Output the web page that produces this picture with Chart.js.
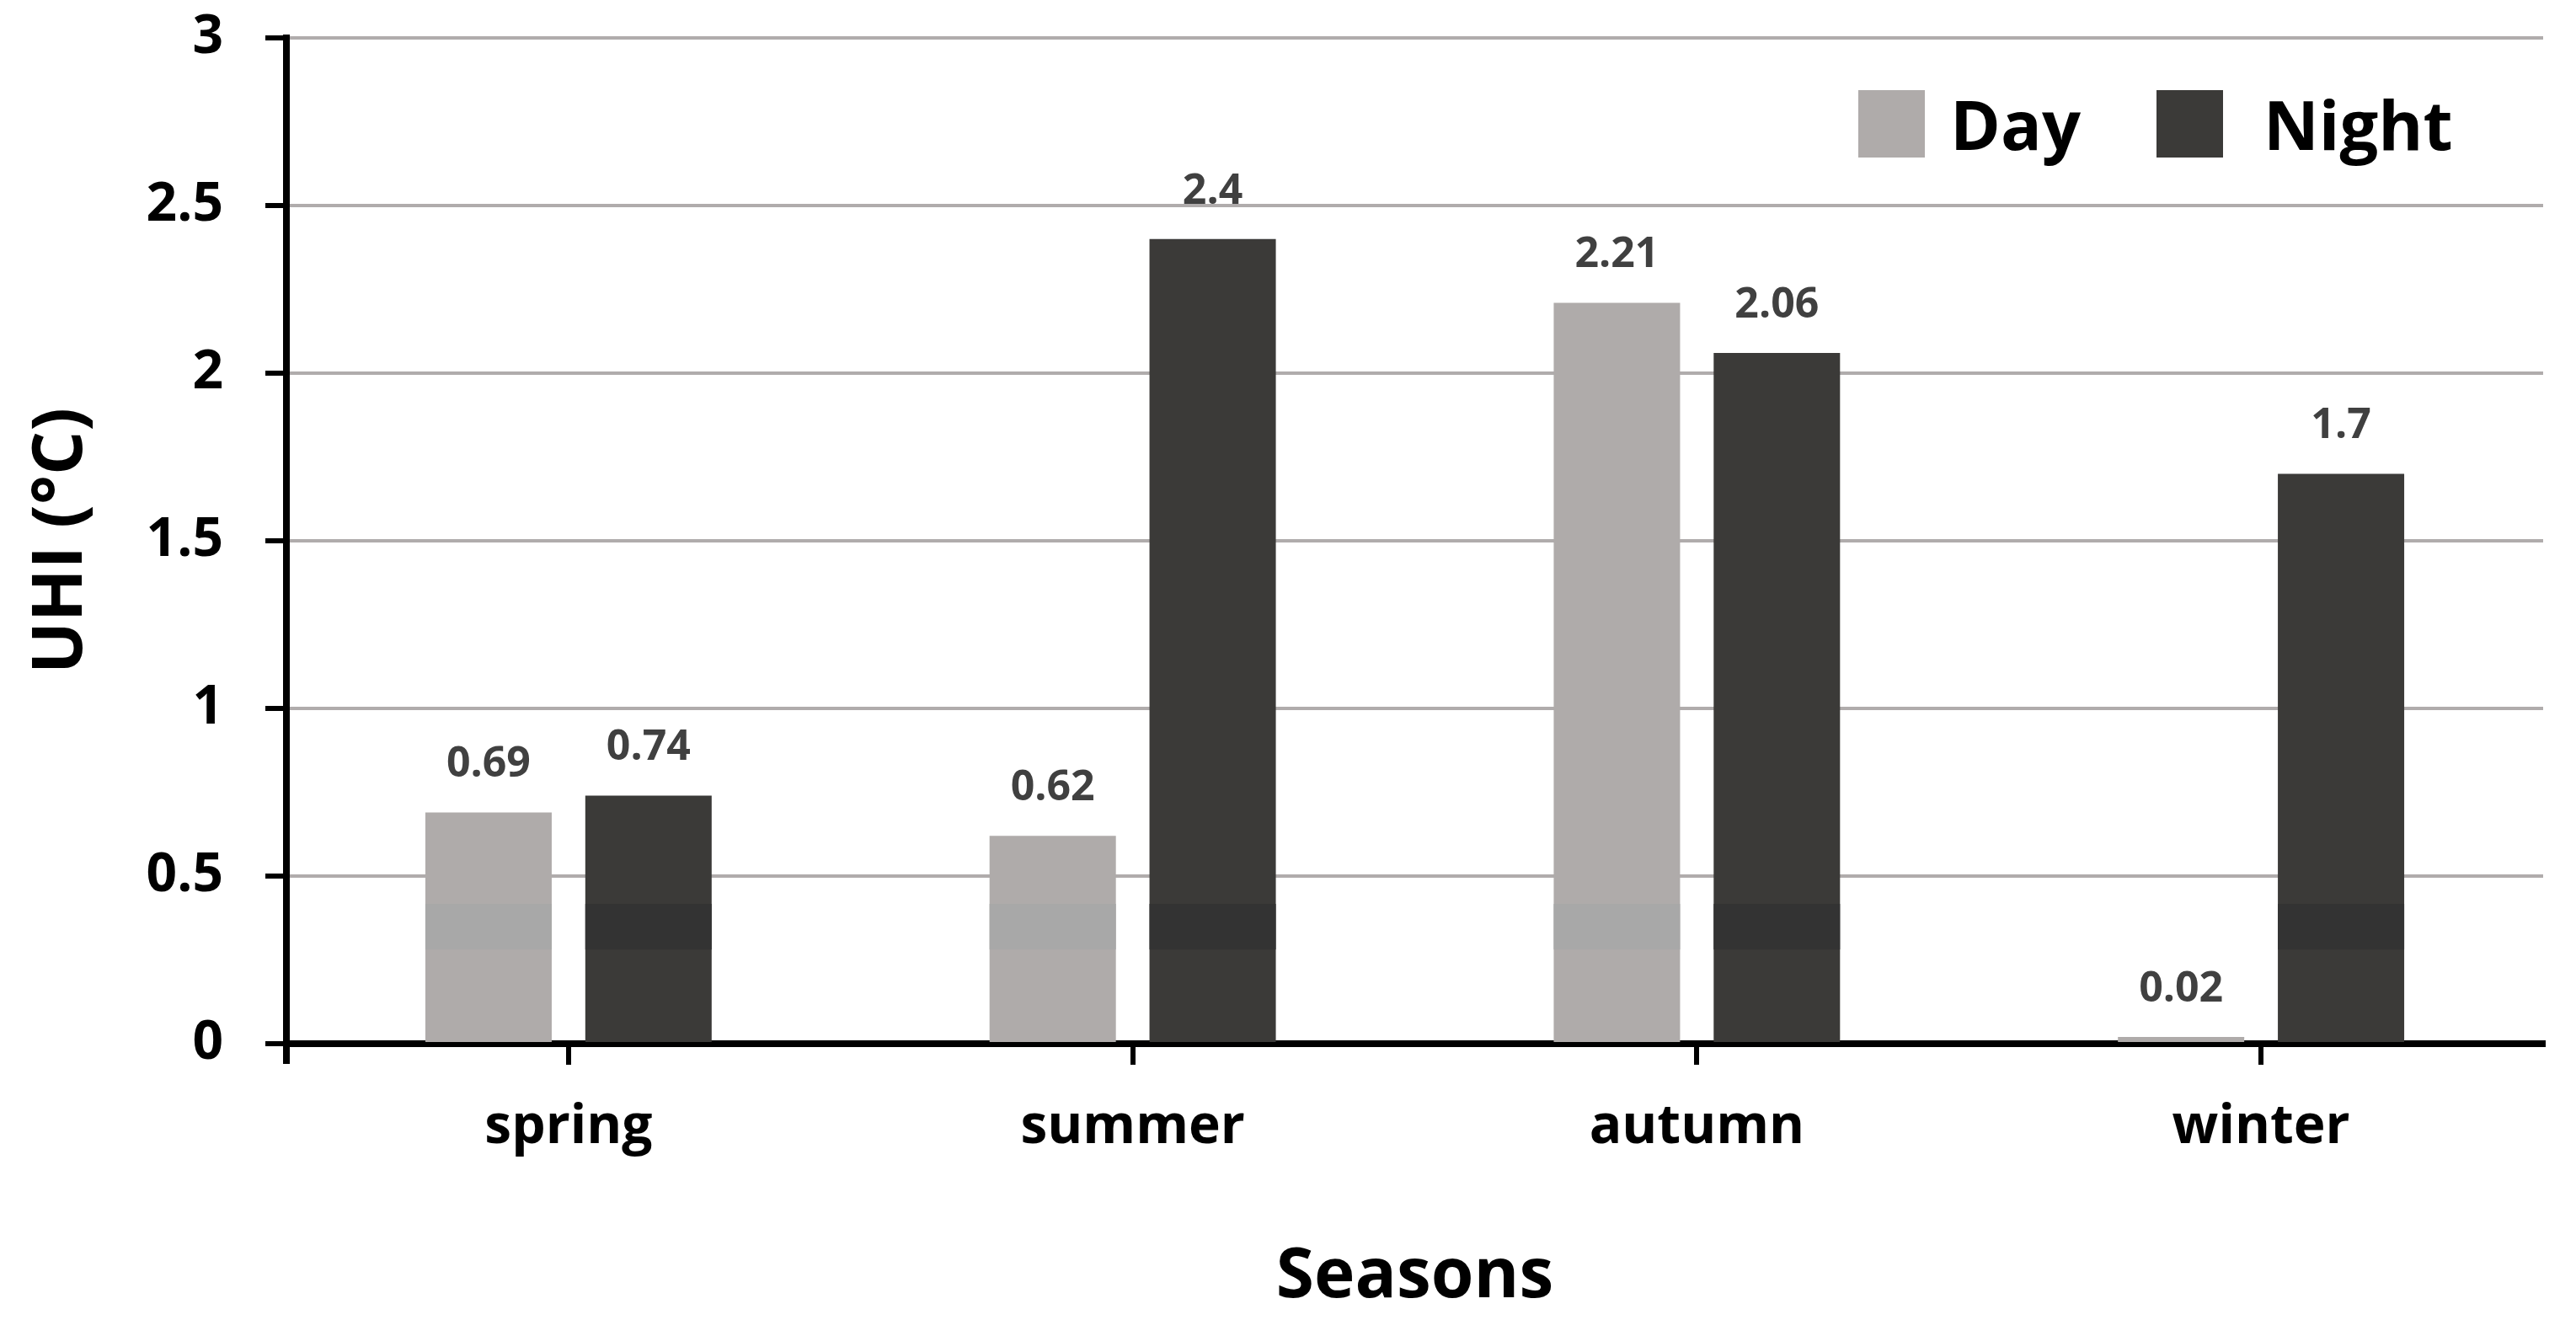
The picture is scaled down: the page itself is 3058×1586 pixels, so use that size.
<!DOCTYPE html>
<html><head><meta charset="utf-8">
<script src="https://cdn.jsdelivr.net/npm/chart.js@4.4.0/dist/chart.umd.min.js"></script>
<style>html,body{margin:0;padding:0;background:#fff;} #wrap{width:3058px;height:1586px;position:relative;} canvas{display:block;}</style>
</head><body><div id="wrap"><canvas id="c" width="3058" height="1586"></canvas></div>
<script>
const categories = ['spring', 'summer', 'autumn', 'winter'];
const dayValues = [0.69, 0.62, 2.21, 0.02];
const nightValues = [0.74, 2.4, 2.06, 1.7];
const seriesNames = ['Day', 'Night'];
const yMin = 0, yMax = 3, yStep = 0.5;
const xTitle = 'Seasons';
const yTitle = 'UHI (°C)';
const bandRange = [0.281, 0.417];

const FONT = "'Open Sans', 'DejaVu Sans', sans-serif";
const dayColor = '#afabaa', nightColor = '#3b3a38';
const bandColors = ['#a8a8a8', '#333333'];

const bandPlugin = {
  id: 'band',
  afterDatasetsDraw(chart) {
    const ctx = chart.ctx, ys = chart.scales.y;
    chart.data.datasets.forEach((ds, di) => {
      const meta = chart.getDatasetMeta(di);
      meta.data.forEach((bar, i) => {
        const v = ds.data[i];
        if (v <= bandRange[0]) return;
        const top = ys.getPixelForValue(Math.min(v, bandRange[1]));
        const bot = ys.getPixelForValue(bandRange[0]);
        ctx.save();
        ctx.fillStyle = bandColors[di];
        ctx.fillRect(bar.x - bar.width / 2, top, bar.width, bot - top);
        ctx.restore();
      });
    });
  }
};

const labelPlugin = {
  id: 'vlabels',
  afterDatasetsDraw(chart) {
    const ctx = chart.ctx;
    ctx.save();
    ctx.font = 'bold 50px ' + FONT;
    ctx.fillStyle = '#404040';
    ctx.textAlign = 'center';
    ctx.textBaseline = 'alphabetic';
    chart.data.datasets.forEach((ds, di) => {
      chart.getDatasetMeta(di).data.forEach((bar, i) => {
        ctx.fillText(String(ds.data[i]), bar.x, bar.y - 42);
      });
    });
    ctx.restore();
  }
};

const legendPlugin = {
  id: 'customLegend',
  afterDraw(chart) {
    const ctx = chart.ctx;
    ctx.save();
    const items = [
      {box: 2206, text: 2315, color: dayColor, label: chart.data.datasets[0].label},
      {box: 2560, text: 2687, color: nightColor, label: chart.data.datasets[1].label}
    ];
    ctx.font = 'bold 81px ' + FONT;
    ctx.textBaseline = 'alphabetic';
    ctx.textAlign = 'left';
    items.forEach(it => {
      ctx.fillStyle = it.color;
      ctx.fillRect(it.box, 107, 79, 80);
      ctx.fillStyle = '#000';
      ctx.fillText(it.label, it.text, 178);
    });
    // y-axis extension below zero
    const a = chart.chartArea;
    ctx.fillStyle = '#000';
    ctx.fillRect(a.left - 4, a.bottom, 8, 24);
    ctx.restore();
  }
};

new Chart(document.getElementById('c'), {
  type: 'bar',
  data: {
    labels: categories,
    datasets: [
      {label: seriesNames[0], data: dayValues, backgroundColor: dayColor, barPercentage: 0.79, categoryPercentage: 0.567},
      {label: seriesNames[1], data: nightValues, backgroundColor: nightColor, barPercentage: 0.79, categoryPercentage: 0.567}
    ]
  },
  options: {
    responsive: false,
    animation: false,
    devicePixelRatio: 1,
    layout: {padding: {left: 0, right: 39, top: 45, bottom: 0}},
    plugins: {legend: {display: false}, tooltip: {enabled: false}},
    scales: {
      x: {
        grid: {offset: false, drawOnChartArea: false, drawTicks: true, tickLength: 25, tickColor: '#000', tickWidth: 6, lineWidth: 6},
        border: {display: true, color: '#000', width: 8},
        ticks: {font: {family: FONT, weight: 'bold', size: 64}, color: '#000', padding: 36},
        title: {display: true, text: xTitle, font: {family: FONT, weight: 'bold', size: 82, lineHeight: 1.2}, color: '#000', padding: {top: 0, bottom: 20}},
        afterFit(s) { s.height = 347; s.paddingLeft = 0; s.paddingRight = 0; }
      },
      y: {
        min: yMin, max: yMax,
        ticks: {stepSize: yStep, callback: v => String(v), font: {family: FONT, weight: 'bold', size: 64}, color: '#000', padding: 50},
        grid: {color: '#b0acac', lineWidth: 4, tickColor: '#000', tickWidth: 6, tickLength: 25, drawTicks: true},
        border: {display: true, color: '#000', width: 8},
        title: {display: true, text: yTitle, font: {family: FONT, weight: 'bold', size: 82, lineHeight: 1.2}, color: '#000', padding: {top: 24, bottom: 0}},
        afterFit(s) { s.width = 340; s.paddingTop = 0; s.paddingBottom = 0; }
      }
    }
  },
  plugins: [bandPlugin, labelPlugin, legendPlugin]
});
</script>
</body></html>
